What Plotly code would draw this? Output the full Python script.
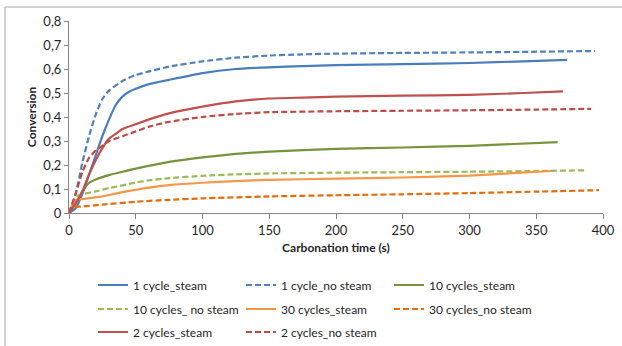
import plotly.graph_objects as go

# ---- data ----
t_1s = [0, 5, 10, 15, 20, 25, 30, 35, 40, 45, 50, 60, 75, 100, 125, 150, 175, 200, 250, 300, 340, 373]
v_1s = [0, 0.02, 0.08, 0.16, 0.24, 0.32, 0.39, 0.45, 0.485, 0.505, 0.518, 0.537, 0.555, 0.583, 0.600, 0.607, 0.612, 0.616, 0.620, 0.625, 0.632, 0.638]

t_1n = [0, 5, 10, 15, 20, 25, 30, 40, 50, 60, 75, 100, 125, 150, 175, 200, 250, 300, 350, 394]
v_1n = [0, 0.08, 0.21, 0.32, 0.41, 0.475, 0.51, 0.55, 0.575, 0.59, 0.61, 0.632, 0.647, 0.656, 0.661, 0.664, 0.667, 0.669, 0.672, 0.675]

t_10s = [0, 5, 10, 15, 20, 30, 40, 50, 75, 100, 125, 150, 200, 250, 300, 366]
v_10s = [0, 0.04, 0.09, 0.125, 0.14, 0.158, 0.172, 0.185, 0.213, 0.232, 0.246, 0.256, 0.267, 0.273, 0.280, 0.295]

t_10n = [0, 3, 6, 10, 20, 30, 40, 50, 60, 75, 100, 125, 150, 200, 250, 300, 350, 387]
v_10n = [0, 0.04, 0.07, 0.078, 0.09, 0.104, 0.115, 0.127, 0.136, 0.145, 0.155, 0.161, 0.165, 0.168, 0.170, 0.172, 0.175, 0.178]

t_30s = [0, 3, 6, 10, 20, 30, 40, 50, 60, 75, 100, 125, 150, 200, 250, 300, 361]
v_30s = [0, 0.04, 0.056, 0.058, 0.065, 0.075, 0.087, 0.097, 0.106, 0.116, 0.126, 0.133, 0.138, 0.143, 0.148, 0.156, 0.175]

t_30n = [0, 3, 10, 25, 50, 75, 100, 150, 200, 250, 300, 350, 397]
v_30n = [0, 0.025, 0.027, 0.035, 0.047, 0.055, 0.061, 0.069, 0.074, 0.078, 0.083, 0.089, 0.095]

t_2s = [0, 5, 10, 15, 20, 25, 30, 35, 40, 50, 60, 75, 100, 125, 150, 175, 200, 250, 300, 340, 370]
v_2s = [0, 0.04, 0.09, 0.16, 0.22, 0.27, 0.31, 0.33, 0.35, 0.37, 0.39, 0.415, 0.443, 0.465, 0.477, 0.481, 0.485, 0.489, 0.492, 0.500, 0.507]

t_2n = [0, 5, 10, 15, 20, 25, 30, 40, 50, 60, 75, 100, 125, 150, 200, 250, 300, 350, 391]
v_2n = [0, 0.08, 0.17, 0.23, 0.26, 0.28, 0.30, 0.32, 0.34, 0.36, 0.38, 0.40, 0.413, 0.42, 0.424, 0.426, 0.428, 0.431, 0.434]

names = ["1 cycle_steam", "1 cycle_no steam", "10 cycles_steam",
         "10 cycles_ no steam", "30 cycles_steam", "30 cycles_no steam",
         "2 cycles_steam", "2 cycles_no steam"]
series_t = [t_1s, t_1n, t_10s, t_10n, t_30s, t_30n, t_2s, t_2n]
series_v = [v_1s, v_1n, v_10s, v_10n, v_30s, v_30n, v_2s, v_2n]
colors = ["#4A7EBB", "#4F81BD", "#77933C", "#9BBB59",
          "#F79646", "#E46C0A", "#C0504D", "#BE4B48"]
dashes = ["solid", "6px,3px", "solid", "6px,3px",
          "solid", "6px,3px", "solid", "6px,3px"]
legend_ids = ["legend", "legend", "legend", "legend2", "legend2", "legend2", "legend3", "legend3"]

x_ticks = [0, 50, 100, 150, 200, 250, 300, 350, 400]
y_ticks = [0, 0.1, 0.2, 0.3, 0.4, 0.5, 0.6, 0.7, 0.8]

FONT = "Lato"
TXT = "#262626"

fig = go.Figure()
for n, tt, vv, c, d, lg in zip(names, series_t, series_v, colors, dashes, legend_ids):
    fig.add_trace(go.Scatter(x=tt, y=vv, name=n, mode="lines",
                             line=dict(color=c, width=2.2, dash=d, shape="spline", smoothing=0.5),
                             legend=lg))

W, H = 622, 346
ml, mr, mt, mb = 69, 19, 21, 133
pw, ph = W - ml - mr, H - mt - mb


def px2x(px):
    return (px - ml) / pw


def py2y(py):
    return (H - mb - py) / ph


leg_common = dict(orientation="h", x=px2x(93), xanchor="left", yanchor="middle",
                  entrywidth=103, entrywidthmode="pixels", bgcolor="rgba(0,0,0,0)",
                  font=dict(family=FONT, size=12, color=TXT), itemclick=False)

fig.update_layout(
    width=W, height=H,
    margin=dict(l=ml, r=mr, t=mt, b=mb, autoexpand=False),
    paper_bgcolor="white", plot_bgcolor="white",
    separators=",.",
    font=dict(family=FONT, size=13, color=TXT),
    legend=dict(y=py2y(285), **leg_common),
    legend2=dict(y=py2y(309), **leg_common),
    legend3=dict(y=py2y(332), **leg_common),
    xaxis=dict(range=[0, 400], tickvals=x_ticks, showgrid=False, zeroline=False,
               showline=True, linecolor="#868686", linewidth=1,
               ticks="outside", ticklen=5, tickcolor="#868686",
               tickfont=dict(family=FONT, size=13, color=TXT),
               title=dict(text="<b>Carbonation time (s)</b>", standoff=7,
                          font=dict(family=FONT, size=12, color=TXT))),
    yaxis=dict(range=[0, 0.8], tickvals=y_ticks, showgrid=False, zeroline=False,
               showline=True, linecolor="#868686", linewidth=1,
               ticks="outside", ticklen=4, tickcolor="#868686",
               tickfont=dict(family=FONT, size=13, color=TXT),
               title=dict(text="<b>Conversion</b>", standoff=4,
                          font=dict(family=FONT, size=12, color=TXT))),
    shapes=[
        dict(type="line", xref="paper", yref="paper", x0=px2x(5), x1=px2x(623),
             y0=py2y(7), y1=py2y(7), line=dict(color="#A6A6A6", width=1)),
        dict(type="line", xref="paper", yref="paper", x0=px2x(5), x1=px2x(5),
             y0=py2y(7), y1=py2y(347), line=dict(color="#A6A6A6", width=1)),
    ],
)

fig.write_html("out.html")
